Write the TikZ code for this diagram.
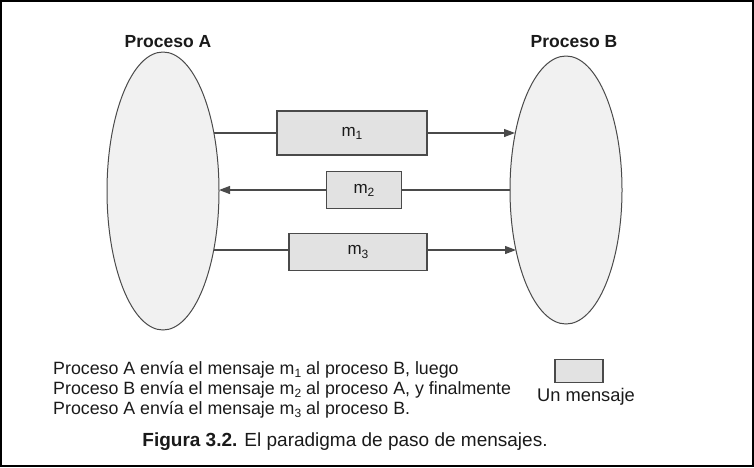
\documentclass[tikz,border=0pt]{standalone}
\usepackage{fontspec}
\setmainfont{Liberation Sans}
\usetikzlibrary{shapes.geometric,arrows.meta}
\definecolor{proc}{HTML}{F1F1F1}
\definecolor{msgfill}{HTML}{E2E2E2}
\definecolor{ln}{HTML}{4A4A4A}
\definecolor{txt}{HTML}{1A1A1A}
\newcommand{\sub}[1]{\raisebox{-0.35ex}{\fontsize{12}{12}\selectfont #1}}
\begin{document}
\begin{tikzpicture}[x=1pt,y=-1pt,
  procshape/.style={ellipse, draw=ln, fill=proc, line width=1pt, inner sep=0pt},
  msgbox/.style={rectangle, draw=ln, fill=msgfill, line width=1.2pt, inner sep=0pt, text=txt, font=\fontsize{17}{20}\selectfont},
  flow/.style={draw=ln, line width=1.2pt},
  tip/.style={-{Triangle[length=11pt,width=8pt]}},
  ttl/.style={font=\fontsize{17.5}{20}\selectfont\bfseries, text=txt, inner sep=0pt},
  body/.style={font=\fontsize{17.8}{22}\selectfont, text=txt, inner sep=0pt, anchor=base west}
]
\useasboundingbox (0,0) rectangle (754,467);
\draw[line width=2pt] (1,1) rectangle (753,466);

\node[procshape, minimum width=112pt, minimum height=278pt] (A) at (163,191) {};
\node[procshape, minimum width=112pt, minimum height=268pt] (B) at (566,190) {};
\node[ttl, anchor=base] (tA) at (168,47) {Proceso A};
\node[ttl, anchor=base] (tB) at (574,47) {Proceso B};

\node[msgbox, minimum width=150pt, minimum height=44pt] (m1) at (352,133) {m\sub{1}};
\node[msgbox, minimum width=75pt, minimum height=37pt] (m2) at (364,190) {m\sub{2}};
\node[msgbox, minimum width=138pt, minimum height=37pt] (m3) at (358,252) {m\sub{3}};

\coordinate (a1) at (214,133);
\coordinate (b1) at (515,133);
\coordinate (a2) at (219,190);
\coordinate (b2) at (510,190);
\coordinate (a3) at (214,250);
\coordinate (b3) at (516,250);

\draw[flow] (a1) -- (m1.west |- a1);
\draw[flow,tip] (m1.east |- b1) -- (b1);
\draw[flow] (b2) -- (m2.east |- b2);
\draw[flow,tip] (m2.west |- a2) -- (a2);
\draw[flow] (a3) -- (m3.west |- a3);
\draw[flow,tip] (m3.east |- b3) -- (b3);

\node[body] (l1) at (53,374) {Proceso A envía el mensaje m\sub{1} al proceso B, luego};
\node[body] (l2) at (53,394) {Proceso B envía el mensaje m\sub{2} al proceso A, y finalmente};
\node[body] (l3) at (53,414) {Proceso A envía el mensaje m\sub{3} al proceso B.};

\node[msgbox, minimum width=48pt, minimum height=23pt] (legbox) at (579,371) {};
\node[body, font=\fontsize{18.3}{22}\selectfont, anchor=base] (legtxt) at (586,401) {Un mensaje};

\node[font=\fontsize{19}{22}\selectfont, text=txt, inner sep=0pt, anchor=base] (cap) at (345,446) {\textbf{Figura 3.2.} El paradigma de paso de mensajes.};
\end{tikzpicture}
\end{document}
